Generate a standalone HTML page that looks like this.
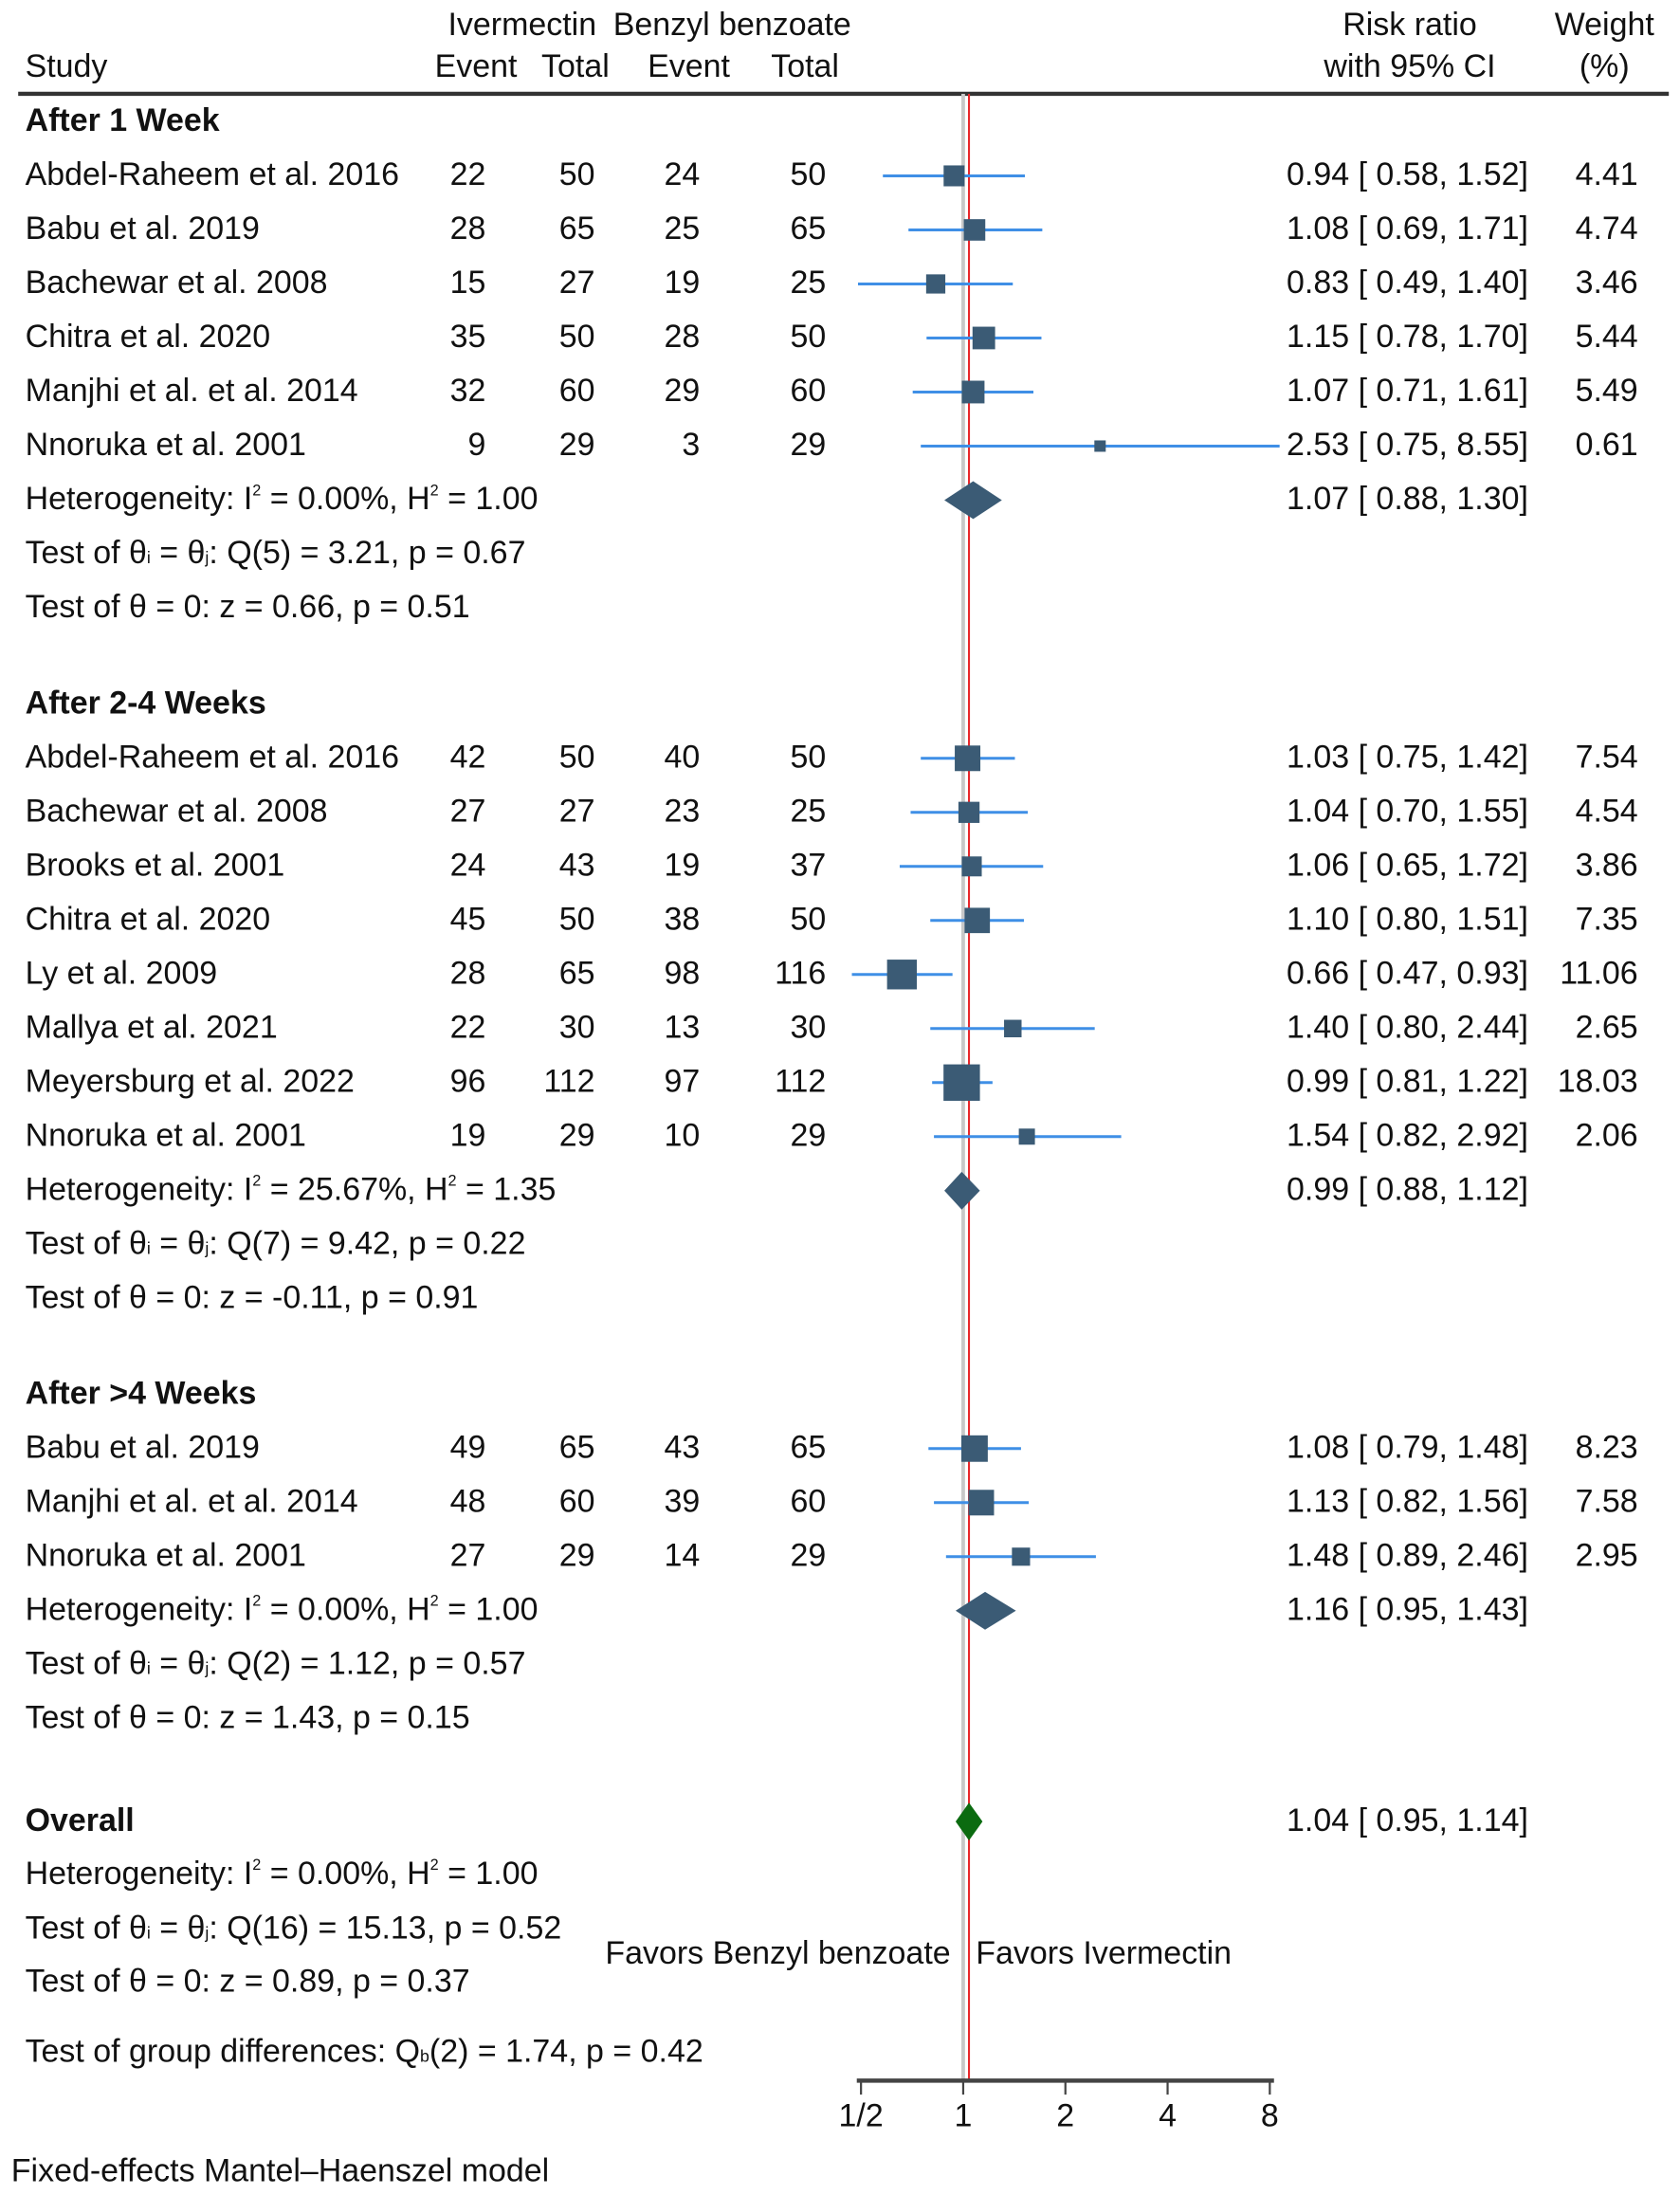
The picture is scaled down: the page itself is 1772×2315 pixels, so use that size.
<!DOCTYPE html>
<html><head><meta charset="utf-8"><style>
html,body{margin:0;padding:0;background:#fff}
svg{display:block}
text{font-family:"Liberation Sans",Arial,sans-serif;font-size:23px;fill:#111}
.b{font-weight:bold}
</style></head><body>
<svg id="plot" width="1772" height="2315" viewBox="0 0 1200 1567.7" preserveAspectRatio="none" xmlns="http://www.w3.org/2000/svg">
<g>
<text x="373" y="25" text-anchor="middle">Ivermectin</text>
<text x="523" y="25" text-anchor="middle">Benzyl benzoate</text>
<text x="18" y="55">Study</text>
<text x="340" y="55" text-anchor="middle">Event</text>
<text x="411" y="55" text-anchor="middle">Total</text>
<text x="492" y="55" text-anchor="middle">Event</text>
<text x="575" y="55" text-anchor="middle">Total</text>
<text x="1007" y="25" text-anchor="middle">Risk ratio</text>
<text x="1007" y="55" text-anchor="middle">with 95% CI</text>
<text x="1146" y="25" text-anchor="middle">Weight</text>
<text x="1146" y="55" text-anchor="middle">(%)</text>
</g>
<line x1="13" x2="1192" y1="67" y2="67" stroke="#333" stroke-width="3"/>
<g id="lines"></g>
<g id="marks"></g>
<g id="txt"></g>
</svg>
<script>
const studies = ["Abdel-Raheem et al. 2016","Babu et al. 2019","Bachewar et al. 2008","Chitra et al. 2020","Manjhi et al. et al. 2014","Nnoruka et al. 2001",
"Abdel-Raheem et al. 2016","Bachewar et al. 2008","Brooks et al. 2001","Chitra et al. 2020","Ly et al. 2009","Mallya et al. 2021","Meyersburg et al. 2022","Nnoruka et al. 2001",
"Babu et al. 2019","Manjhi et al. et al. 2014","Nnoruka et al. 2001"];
const groupOf = [0,0,0,0,0,0,1,1,1,1,1,1,1,1,2,2,2];
const ivEvent = [22,28,15,35,32,9,42,27,24,45,28,22,96,19,49,48,27];
const ivTotal = [50,65,27,50,60,29,50,27,43,50,65,30,112,29,65,60,29];
const bbEvent = [24,25,19,28,29,3,40,23,19,38,98,13,97,10,43,39,14];
const bbTotal = [50,65,25,50,60,29,50,25,37,50,116,30,112,29,65,60,29];
const rr = [0.94,1.08,0.83,1.15,1.07,2.53,1.03,1.04,1.06,1.10,0.66,1.40,0.99,1.54,1.08,1.13,1.48];
const lo = [0.58,0.69,0.49,0.78,0.71,0.75,0.75,0.70,0.65,0.80,0.47,0.80,0.81,0.82,0.79,0.82,0.89];
const hi = [1.52,1.71,1.40,1.70,1.61,8.55,1.42,1.55,1.72,1.51,0.93,2.44,1.22,2.92,1.48,1.56,2.46];
const weight = ["4.41","4.74","3.46","5.44","5.49","0.61","7.54","4.54","3.86","7.35","11.06","2.65","18.03","2.06","8.23","7.58","2.95"];
const groupNames = ["After 1 Week","After 2-4 Weeks","After >4 Weeks"];
const groupRR = [1.07,0.99,1.16];
const groupLo = [0.88,0.88,0.95];
const groupHi = [1.30,1.12,1.43];
const groupI2 = ["0.00%","25.67%","0.00%"];
const groupH2 = ["1.00","1.35","1.00"];
const groupQdf = ["5","7","2"];
const groupQ = ["3.21","9.42","1.12"];
const groupQp = ["0.67","0.22","0.57"];
const groupZ = ["0.66","-0.11","1.43"];
const groupZp = ["0.51","0.91","0.15"];
const overall = [1.04,0.95,1.14];
const tickVals = [0.5,1,2,4,8];
const tickLabels = ["1/2","1","2","4","8"];

const NS="http://www.w3.org/2000/svg";
const X0=688, PX=73;
const xs = v => X0 + PX*Math.log2(v);
const ROW=38.6;
const f2 = v => v.toFixed(2);
function mk(tag, attrs, parent){const e=document.createElementNS(NS,tag);for(const k in attrs)e.setAttribute(k,attrs[k]);parent.appendChild(e);return e;}
const gL=document.getElementById('lines'), gM=document.getElementById('marks'), gT=document.getElementById('txt');
function txt(x,y,s,anchor,cls){const t=mk('text',{x:x,y:y+6.5},gT);if(anchor)t.setAttribute('text-anchor',anchor);if(cls)t.setAttribute('class',cls);t.innerHTML=s;return t;}
function ciText(a,b,c){return f2(a)+" [ "+f2(b)+",  "+f2(c)+"]";}
function diamond(y,a,b,c,fill,h){const p=mk('polygon',{points:`${xs(b)},${y} ${xs(a)},${y-h/2} ${xs(c)},${y} ${xs(a)},${y+h/2}`,fill:fill},gM);return p;}

const groupStartY=[87,503,996];
for(let g=0;g<3;g++){
  let y=groupStartY[g];
  let t=txt(18,y,groupNames[g],null,'b');
  
  
  y+=ROW;
  for(let i=0;i<studies.length;i++){ if(groupOf[i]!==g) continue;
    t=txt(18,y,studies[i]);
    
    
    txt(347,y,ivEvent[i],'end');txt(425,y,ivTotal[i],'end');txt(500,y,bbEvent[i],'end');txt(590,y,bbTotal[i],'end');
    txt(919,y,ciText(rr[i],lo[i],hi[i]));
    txt(1170,y,weight[i],'end');
    const ln=mk('line',{x1:xs(lo[i]),x2:xs(hi[i]),y1:y,y2:y,stroke:'#3f8fe6','stroke-width':2},gM);
    
    
    const s=4.1+5.16*Math.sqrt(parseFloat(weight[i]));
    const sq=mk('rect',{x:xs(rr[i])-s/2,y:y-s/2,width:s,height:s,fill:'#3b5b75'},gM);
    
    
    y+=ROW;
  }
  t=txt(18,y,`Heterogeneity: I<tspan dy="-10" font-size="11">2</tspan><tspan dy="10"> = ${groupI2[g]}, H</tspan><tspan dy="-10" font-size="11">2</tspan><tspan dy="10"> = ${groupH2[g]}</tspan>`);
  
  
  txt(919,y,ciText(groupRR[g],groupLo[g],groupHi[g]));
  const d=diamond(y,groupRR[g],groupLo[g],groupHi[g],'#3b5b75',27);
  
  
  y+=ROW;
  txt(18,y,`Test of θ<tspan font-size="12">i</tspan> = θ<tspan font-size="12">j</tspan>: Q(${groupQdf[g]}) = ${groupQ[g]}, p = ${groupQp[g]}`);
  y+=ROW;
  txt(18,y,`Test of θ = 0: z = ${groupZ[g]}, p = ${groupZp[g]}`);
}
let t=txt(18,1301,'Overall',null,'b');


txt(919,1301,ciText(overall[0],overall[1],overall[2]));
let od=diamond(1301,overall[0],overall[1],overall[2],'#0b6b10',27);


txt(18,1339,`Heterogeneity: I<tspan dy="-10" font-size="11">2</tspan><tspan dy="10"> = 0.00%, H</tspan><tspan dy="-10" font-size="11">2</tspan><tspan dy="10"> = 1.00</tspan>`);
txt(18,1378,`Test of θ<tspan font-size="12">i</tspan> = θ<tspan font-size="12">j</tspan>: Q(16) = 15.13, p = 0.52`);
txt(18,1416,`Test of θ = 0: z = 0.89, p = 0.37`);
txt(18,1466,`Test of group differences: Q<tspan font-size="12">b</tspan>(2) = 1.74, p = 0.42`);
t=txt(679,1396,'Favors Benzyl benzoate','end');


t=txt(697,1396,'Favors Ivermectin');


t=mk('text',{x:8,y:1558,'font-size':21},gT);t.textContent='Fixed-effects Mantel–Haenszel model';


let r1=mk('line',{x1:xs(1),x2:xs(1),y1:67,y2:1486,stroke:'#c8c8c8','stroke-width':2.6},gL);


let r2=mk('line',{x1:xs(overall[0]),x2:xs(overall[0]),y1:67,y2:1486,stroke:'#e8262a','stroke-width':1.4},gL);


let ax=mk('line',{x1:xs(tickVals[0])-3,x2:xs(tickVals[tickVals.length-1])+3,y1:1486,y2:1486,stroke:'#444','stroke-width':3},gL);


tickVals.forEach((v,i)=>{
  const tk=mk('line',{x1:xs(v),x2:xs(v),y1:1486,y2:1496,stroke:'#444','stroke-width':1.5},gL);
  
  
  const lb=txt(xs(v),1512,tickLabels[i],'middle');
  
  
});
</script>
</body></html>
